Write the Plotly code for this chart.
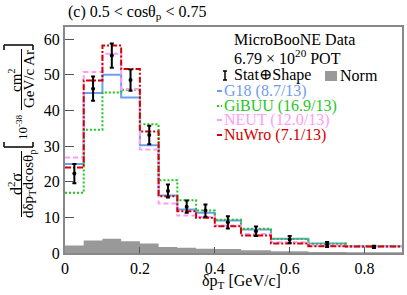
import plotly.graph_objects as go

# ---------------- data ----------------
bin_edges = [0, 0.05, 0.1, 0.15, 0.2, 0.25, 0.3, 0.35, 0.4, 0.47, 0.55, 0.65, 0.75, 0.9]
data_vals = [22.3, 46.1, 55.4, 48.5, 33.1, 17.4, 13.0, 11.9, 8.6, 6.1, 3.8, 2.4, 1.7]
data_errs = [2.7, 3.4, 3.4, 3.0, 2.6, 1.8, 1.7, 1.7, 1.7, 1.3, 1.0, 0.7, 0.3]
g18_vals = [25.0, 44.9, 50.0, 43.6, 30.2, 16.1, 12.2, 11.3, 9.1, 6.6, 4.0, 2.7, 1.9]
gibuu_vals = [16.9, 34.6, 45.0, 45.8, 36.1, 20.4, 14.8, 11.9, 9.3, 6.8, 3.9, 2.6, 1.9]
neut_vals = [26.8, 50.8, 55.9, 46.0, 29.0, 13.9, 10.5, 10.1, 7.7, 5.3, 3.0, 2.0, 1.8]
nuwro_vals = [24.0, 48.4, 58.2, 51.6, 34.1, 15.9, 11.7, 9.9, 7.5, 4.9, 2.7, 1.9, 1.8]
norm_vals = [2.1, 3.5, 4.0, 3.3, 2.7, 1.7, 1.5, 1.2, 1.1, 0.8, 0.5, 0.3, 0.2]

x_ticks = [0, 0.2, 0.4, 0.6, 0.8]
x_tick_labels = ["0", "0.2", "0.4", "0.6", "0.8"]
y_ticks = [0, 10, 20, 30, 40, 50, 60]
y_tick_labels = ["0", "10", "20", "30", "40", "50", "60"]

models = [
    ("G18 (8.7/13)", g18_vals, "#6f9bf2", "solid"),
    ("GiBUU (16.9/13)", gibuu_vals, "#1ec81e", "2px,2px"),
    ("NEUT (12.0/13)", neut_vals, "#ff9cf7", "5px,3px"),
    ("NuWro (7.1/13)", nuwro_vals, "#d40000", "6px,2px,2px,2px"),
]

FONT = "Liberation Serif, Times New Roman, DejaVu Serif, serif"
W, H = 407, 295
L, R, T, B = 65, 5, 27, 42
PW, PH = W - L - R, H - T - B


def px(xp):
    return (xp - L) / PW


def py(yp):
    return (H - B - yp) / PH


def step(vals):
    return list(vals) + [vals[-1]]


fig = go.Figure()

# normalisation uncertainty band
fig.add_trace(go.Scatter(x=bin_edges, y=step(norm_vals), mode="lines",
                         line=dict(shape="hv", width=0, color="#999999"),
                         fill="tozeroy", fillcolor="#999999", showlegend=False))

for name, vals, color, dash in models:
    fig.add_trace(go.Scatter(x=bin_edges, y=step(vals), mode="lines",
                             line=dict(shape="hv", width=2, color=color, dash=dash),
                             showlegend=False, name=name))

centers = [(bin_edges[i] + bin_edges[i + 1]) / 2 for i in range(len(data_vals))]
fig.add_trace(go.Scatter(x=centers, y=data_vals, mode="markers",
                         marker=dict(color="black", size=4),
                         error_y=dict(type="data", array=data_errs, color="black",
                                      thickness=2, width=2),
                         showlegend=False))

fig.update_xaxes(range=[0, 0.9], tickvals=x_ticks, ticktext=x_tick_labels,
                 ticks="inside", ticklen=6, tickwidth=1, tickcolor="#555555",
                 showline=True, linecolor="#888888", linewidth=2, mirror=True,
                 showgrid=False, zeroline=False, automargin=False,
                 tickfont=dict(family=FONT, size=16, color="black"))
fig.update_yaxes(range=[0, 63.4], tickvals=y_ticks, ticktext=y_tick_labels,
                 ticks="inside", ticklen=9, tickwidth=1, tickcolor="#555555",
                 showline=True, linecolor="#888888", linewidth=2, mirror=True,
                 showgrid=False, zeroline=False, automargin=False,
                 tickfont=dict(family=FONT, size=16, color="black"))

ann = []
shapes = []


def text(xp, yp, s, size=16, color="black", anchor="left", angle=0):
    ann.append(dict(x=px(xp), y=py(yp), xref="paper", yref="paper", text=s,
                    showarrow=False, xanchor=anchor, yanchor="middle", textangle=angle,
                    font=dict(family=FONT, size=size, color=color)))


def line(x0, y0, x1, y1, color="black", width=1, dash="solid"):
    shapes.append(dict(type="line", xref="paper", yref="paper",
                       x0=px(x0), y0=py(y0), x1=px(x1), y1=py(y1),
                       line=dict(color=color, width=width, dash=dash)))


# title
text(66, 13, "(c) 0.5 < cosθ<sub>p</sub> < 0.75", size=16)
# x title
text(241, 281, "δp<sub>T</sub> [GeV/c]", size=16, anchor="center")

# y title pieces
text(15, 184, "d<sup>2</sup>σ", size=16, anchor="center", angle=-90)
text(29, 184, "dδp<sub>T</sub>dcosθ<sub>p</sub>", size=15, anchor="center", angle=-90)
line(21.5, 151, 21.5, 217, width=1)
text(22, 127, "10<sup>-38</sup>", size=13, anchor="center", angle=-90)
text(15, 80, "cm<sup>2</sup>", size=15, anchor="center", angle=-90)
text(29, 79, "GeV/c Ar", size=15, anchor="center", angle=-90)
line(21.5, 49, 21.5, 110, width=1)
# brackets
line(4, 147, 33, 147, width=1.5)
line(4, 147, 4, 142, width=1.5)
line(33, 147, 33, 142, width=1.5)
line(4, 45, 33, 45, width=1.5)
line(4, 45, 4, 50, width=1.5)
line(33, 45, 33, 50, width=1.5)

# legend
text(232, 40, "MicroBooNE Data", size=16)
text(232, 57, "6.79 × 10<sup>20</sup> POT", size=16)
text(232, 75, "Stat⊕Shape", size=16)
line(225, 71, 225, 80, width=1.5)
line(223, 71, 227, 71, width=1.5)
line(223, 80, 227, 80, width=1.5)
shapes.append(dict(type="rect", xref="paper", yref="paper", x0=px(325), x1=px(337),
                   y0=py(71), y1=py(81), fillcolor="#999999", line=dict(width=0)))
text(338, 75, "Norm", size=16)
leg_y = [91, 106, 120, 135]
for (name, vals, color, dash), yy in zip(models, leg_y):
    line(217, yy, 222, yy, color=color, width=2, dash=dash)
    text(222, yy, name, size=16, color=color)

fig.update_layout(width=W, height=H, margin=dict(l=L, r=R, t=T, b=B, autoexpand=False),
                  paper_bgcolor="white", plot_bgcolor="white",
                  annotations=ann, shapes=shapes, hovermode=False,
                  font=dict(family=FONT))

fig.write_html("out.html", config={"displayModeBar": False},
               post_script="document.body.style.margin='0';document.body.style.overflow='hidden';")
